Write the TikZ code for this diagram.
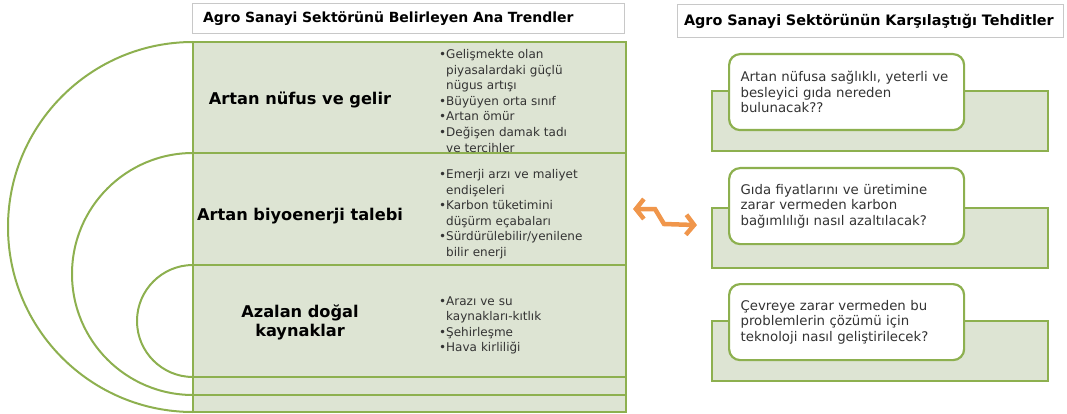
\documentclass[tikz,border=0pt]{standalone}
\usepackage{fontspec}
\setmainfont{DejaVu Sans}
\usetikzlibrary{positioning, arrows.meta}

\definecolor{oliveline}{HTML}{8DB04F}
\definecolor{sagefill}{HTML}{DDE4D3}
\definecolor{titlegray}{HTML}{C8C8C8}
\definecolor{swaporange}{HTML}{F0964B}
\definecolor{bullettext}{HTML}{333333}

\newcommand{\blt}{\par\hangindent=7pt\hangafter=1\noindent\makebox[7pt][l]{\textbullet}}

\tikzset{
  titlebox/.style={draw=titlegray, line width=1pt, fill=white, minimum height=30pt,
    text width=410pt, align=left, inner xsep=11pt, font=\bfseries\fontsize{14}{16}\selectfont},
  band/.style={draw=oliveline, line width=2.2pt, fill=sagefill, minimum width=433pt,
    outer sep=0pt, inner sep=0pt},
  trend/.style={align=center, font=\bfseries\fontsize{16.2}{19}\selectfont},
  detail/.style={text width=185pt, align=left, text=bullettext, inner sep=0pt,
    font=\fontsize{12}{15.6}\selectfont},
  backbox/.style={draw=oliveline, line width=2.2pt, fill=sagefill, minimum width=336pt,
    minimum height=60pt, anchor=north west},
  question/.style={draw=oliveline, line width=2.2pt, fill=white, rounded corners=11pt,
    minimum width=235pt, minimum height=76pt, anchor=north west, text width=212pt,
    align=left, inner xsep=11pt, text=bullettext, font=\fontsize{13.3}{15.5}\selectfont},
  ring/.style={draw=oliveline, line width=2pt},
  swap/.style={draw=swaporange, line width=4.5pt,
    {Straight Barb[length=8pt,width=20pt]}-{Straight Barb[length=8pt,width=20pt]}}
}

\begin{document}
\begin{tikzpicture}[x=1pt, y=-1pt, node distance=0pt]
\useasboundingbox (0,0) rectangle (1067,414);

% Titles
\node[titlebox, text width=410pt] (trendtitle) at (408,18.5) {Agro Sanayi Sektörünü Belirleyen Ana Trendler};
\node[titlebox, text width=372pt, inner xsep=7pt, minimum height=33pt, font=\bfseries\fontsize{14.4}{16}\selectfont] (threattitle) at (870,21) {Agro Sanayi Sektörünün Karşılaştığı Tehditler};

% Left stack of bands
\node[band, minimum height=111pt, anchor=north west] (pop) at (193,42) {};
\node[band, minimum height=112pt, below=of pop] (bio) {};
\node[band, minimum height=112pt, below=of bio] (res) {};
\node[band, minimum height=18pt, below=of res] (stripa) {};
\node[band, minimum height=17pt, below=of stripa] (stripb) {};

% Half rings
\draw[ring] (pop.north west) arc[start angle=90, end angle=270, radius=185pt];
\draw[ring] (bio.north west) arc[start angle=90, end angle=270, radius=121pt];
\draw[ring] (res.north west) arc[start angle=90, end angle=270, radius=56pt];

% Trend labels
\node[trend] (poplabel) at (300,100) {Artan nüfus ve gelir};
\node[trend] (biolabel) at (300,216) {Artan biyoenerji talebi};
\node[trend] (reslabel) at (300,322) {Azalan doğal\\kaynaklar};

\node[detail, anchor=west] (popitems) at (439,97.5) {%
  \blt Gelişmekte olan\newline piyasalardaki güçlü\newline nügus artışı
  \blt Büyüyen orta sınıf
  \blt Artan ömür
  \blt Değişen damak tadı\newline ve tercihler\par};
\node[detail, anchor=west] (bioitems) at (439,211) {%
  \blt Emerji arzı ve maliyet\newline endişeleri
  \blt Karbon tüketimini\newline düşürm eçabaları
  \blt Sürdürülebilir/yenilene\newline bilir enerji\par};
\node[detail, anchor=west] (resitems) at (439,322) {%
  \blt Arazı ve su\newline kaynakları-kıtlık
  \blt Şehirleşme
  \blt Hava kirliliği\par};

% Threats
\node[backbox] (foodback) at (711,90) {};
\node[question] (food) at (728,53) {Artan nüfusa sağlıklı, yeterli ve\\besleyici gıda nereden\\bulunacak??};
\node[backbox] (carbonback) at (711,207) {};
\node[question] (carbon) at (728,167) {Gıda fiyatlarını ve üretimine\\zarar vermeden karbon\\bağımlılığı nasıl azaltılacak?};
\node[backbox] (techback) at (711,320) {};
\node[question] (tech) at (728,283) {Çevreye zarar vermeden bu\\problemlerin çözümü için\\teknoloji nasıl geliştirilecek?};

% Link
\coordinate[right=7pt of bio.east] (swapL);
\coordinate[left=14pt of carbonback.west, yshift=13pt] (swapR);
\draw[swap] (swapL) -- ++(22,0) -- ++(9,15) -- (swapR);
\end{tikzpicture}
\end{document}
